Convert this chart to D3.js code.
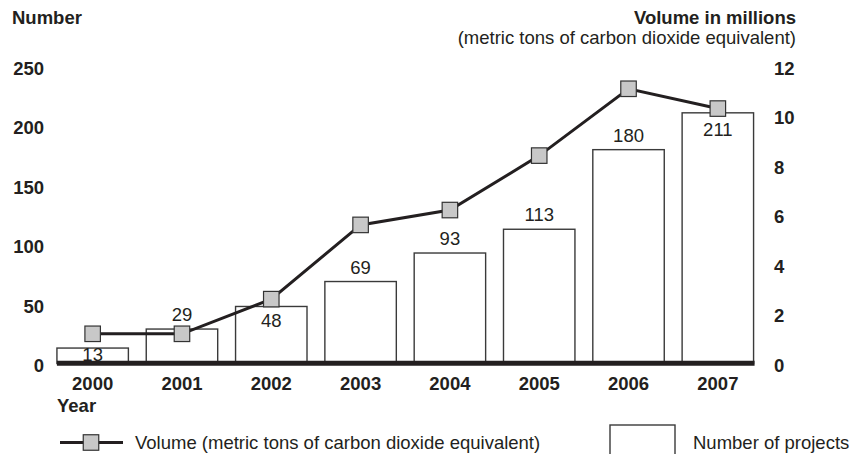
<!DOCTYPE html>
<html>
<head>
<meta charset="utf-8">
<script src="https://cdn.jsdelivr.net/npm/d3@7"></script>
<style>
  html, body { margin: 0; padding: 0; background: #fff; }
  svg { display: block; }
  text { font-family: "Liberation Sans", Arial, Helvetica, sans-serif; fill: #231f20; }
</style>
</head>
<body>
<svg id="chart" width="858" height="454"></svg>
<script>
// ---- data ----
const years = ["2000", "2001", "2002", "2003", "2004", "2005", "2006", "2007"];
const projects = [13, 29, 48, 69, 93, 113, 180, 211];
const volume = [1.2, 1.2, 2.6, 5.6, 6.2, 8.4, 11.1, 10.3];
const leftTicks = [0, 50, 100, 150, 200, 250];
const rightTicks = [0, 2, 4, 6, 8, 10, 12];

const svg = d3.select("#chart");
const ink = "#231f20";
const fs = 18.5;

const x = d3.scaleBand().domain(years).range([48, 762.5]).paddingInner(0.2).paddingOuter(0.1);
const yL = d3.scaleLinear().domain([0, 250]).range([363.5, 66.5]);
const yR = d3.scaleLinear().domain([0, 12]).range([363.5, 66.5]);

// bars
svg.append("g").selectAll("rect").data(years).join("rect")
  .attr("x", d => x(d))
  .attr("y", (d, i) => yL(projects[i]))
  .attr("width", x.bandwidth())
  .attr("height", (d, i) => yL(0) - yL(projects[i]))
  .attr("fill", "#fff")
  .attr("stroke", "#3a3a3a")
  .attr("stroke-width", 1.4);

// bar labels
svg.append("g").selectAll("text").data(years).join("text")
  .attr("x", d => x(d) + x.bandwidth() / 2)
  .attr("y", (d, i) => {
    const top = yL(projects[i]);
    const my = yR(volume[i]);
    const gap = top - my;
    if (gap > 0 && gap < 30) return my + 27.5; // marker sits just above the bar: label inside
    return top - 8;
  })
  .attr("text-anchor", "middle")
  .attr("font-size", fs)
  .text((d, i) => projects[i]);

// baseline
svg.append("line")
  .attr("x1", x(years[0])).attr("x2", x(years[years.length - 1]) + x.bandwidth() + 1)
  .attr("y1", 363.3).attr("y2", 363.3)
  .attr("stroke", ink).attr("stroke-width", 5);

// volume line
const line = d3.line().x((d, i) => x(years[i]) + x.bandwidth() / 2).y(d => yR(d));
svg.append("path").datum(volume)
  .attr("d", line)
  .attr("fill", "none").attr("stroke", ink).attr("stroke-width", 3);

const ms = 15.5;
svg.append("g").selectAll("rect").data(volume).join("rect")
  .attr("x", (d, i) => x(years[i]) + x.bandwidth() / 2 - ms / 2)
  .attr("y", d => yR(d) - ms / 2)
  .attr("width", ms).attr("height", ms)
  .attr("fill", "#c8c8c8").attr("stroke", "#333").attr("stroke-width", 1.2);

// axes
const leftAxis = svg.append("g").attr("transform", "translate(44,2)")
  .call(d3.axisLeft(yL).tickValues(leftTicks).tickSize(0).tickPadding(0));
const rightAxis = svg.append("g").attr("transform", "translate(774,2)")
  .call(d3.axisRight(yR).tickValues(rightTicks).tickSize(0).tickPadding(0));
const bottomAxis = svg.append("g").attr("transform", "translate(0,390)")
  .call(d3.axisBottom(x).tickSize(0).tickPadding(0));
[leftAxis, rightAxis, bottomAxis].forEach(g => {
  g.select(".domain").remove();
  g.selectAll("text").attr("font-size", fs).attr("font-weight", "bold")
    .attr("fill", ink).attr("font-family", '"Liberation Sans", Arial, sans-serif');
});
bottomAxis.selectAll("text").attr("y", 0).attr("dy", null);

// titles
svg.append("text").attr("x", 12).attr("y", 23.5).attr("font-size", fs).attr("font-weight", "bold").text("Number");
svg.append("text").attr("x", 796).attr("y", 23.5).attr("text-anchor", "end").attr("font-size", fs).attr("font-weight", "bold").text("Volume in millions");
svg.append("text").attr("x", 796).attr("y", 43.5).attr("text-anchor", "end").attr("font-size", fs).text("(metric tons of carbon dioxide equivalent)");
svg.append("text").attr("x", 57).attr("y", 411.5).attr("font-size", fs).attr("font-weight", "bold").text("Year");

// legend
const lg = svg.append("g");
lg.append("line").attr("x1", 60).attr("x2", 123).attr("y1", 442.5).attr("y2", 442.5)
  .attr("stroke", ink).attr("stroke-width", 3);
lg.append("rect").attr("x", 91 - ms / 2).attr("y", 442.5 - ms / 2).attr("width", ms).attr("height", ms)
  .attr("fill", "#c8c8c8").attr("stroke", "#333").attr("stroke-width", 1.2);
lg.append("text").attr("x", 135).attr("y", 448.5).attr("font-size", fs)
  .text("Volume (metric tons of carbon dioxide equivalent)");
lg.append("rect").attr("x", 610).attr("y", 425).attr("width", 65).attr("height", 40)
  .attr("fill", "#fff").attr("stroke", "#3a3a3a").attr("stroke-width", 1.4);
lg.append("text").attr("x", 693).attr("y", 448.5).attr("font-size", fs).text("Number of projects");
</script>
</body>
</html>
